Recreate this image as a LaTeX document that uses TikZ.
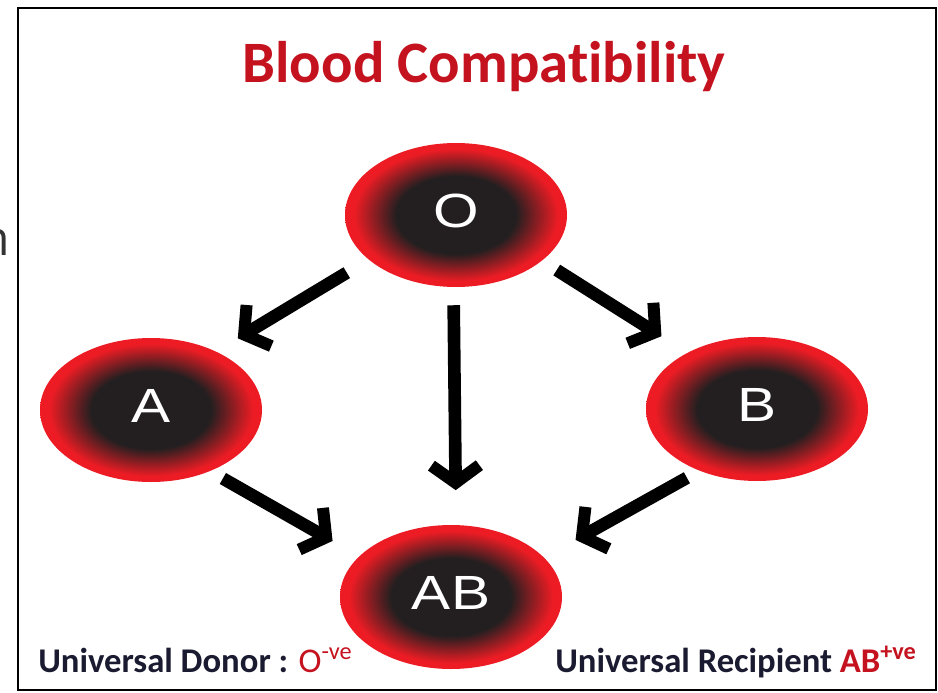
\documentclass[tikz,border=0pt]{standalone}
\usepackage{fontspec}
\usepackage{xcolor}
\usetikzlibrary{arrows.meta,shapes.geometric}
\setmainfont[Ligatures=NoCommon]{Carlito}
\newfontfamily\cellfont[FakeStretch=1.22]{Liberation Sans}
\newfontfamily\edgefont{Open Sans}
\definecolor{cellcore}{HTML}{231F20}
\definecolor{cellred}{HTML}{ED1C24}
\definecolor{titlered}{HTML}{C4121F}
\definecolor{labelnavy}{HTML}{1A1A30}
\pgfdeclareradialshading{bloodcell}{\pgfpoint{0bp}{0bp}}{%
  color(0bp)=(cellcore); color(13.5bp)=(cellcore); color(23bp)=(cellred); color(50bp)=(cellred)}
\tikzset{
    cell/.style={ellipse, shade, shading=bloodcell, minimum width=166.5pt, minimum height=108pt,
        inner sep=0pt, text=white, text depth=6pt, font=\cellfont\fontsize{36}{36}\selectfont},
    flow/.style={line width=9.5pt, -{Straight Barb[length=13pt,width=36pt,line width=9pt]}},
    caption/.style={font=\bfseries\fontsize{26}{28}\selectfont, text=labelnavy, inner sep=0pt, anchor=base west}
}

\begin{document}
\begin{tikzpicture}[x=0.75pt, y=-0.75pt]
\useasboundingbox (0,0) rectangle (938,692);
\draw[line width=1.8pt] (18,8) rectangle (936,690);
\node[font=\edgefont\fontsize{36}{36}\selectfont, text=black!80, anchor=base east, inner sep=0pt] (cutoff) at (10,255) {n};
\node[font=\bfseries\fontsize{44}{46}\selectfont, text=titlered, inner sep=0pt] (title) at (484,67) {Blood Compatibility};

\node[cell] (cello) at (456,215) {O};
\node[cell] (cella) at (151,410) {A};
\node[cell] (cellb) at (757,409) {B};
\node[cell] (cellab) at (451,597) {AB};

\draw[flow, shorten <=19pt, shorten >=19pt] (cello.207.6) -- (cella.42.6);
\draw[flow, shorten <=13pt, shorten >=23pt] (cello.332.5) -- (cellb.141.8);
\draw[flow, shorten <=13.5pt, shorten >=26pt] (cello.268.4) -- (cellab.86);
\draw[flow, shorten <=11pt, shorten >=23pt] (cella.314.2) -- (cellab.156.7);
\draw[flow, shorten <=10.7pt, shorten >=27pt] (cellb.227.5) -- (cellab.23);

\node[caption] (donor) at (38,672) {Universal Donor : \textcolor{titlered}{\mdseries O\textsuperscript{-ve}}};
\node[caption] (recipient) at (555,672) {Universal Recipient \textcolor{titlered}{AB\textsuperscript{+ve}}};
\end{tikzpicture}
\end{document}
